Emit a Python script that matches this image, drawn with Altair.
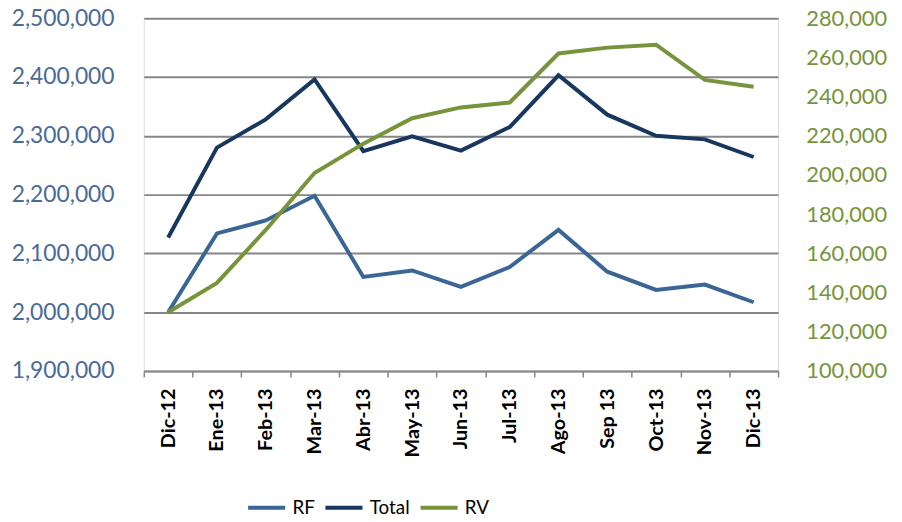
import altair as alt
import pandas as pd

months = ["Dic-12", "Ene-13", "Feb-13", "Mar-13", "Abr-13", "May-13", "Jun-13",
          "Jul-13", "Ago-13", "Sep 13", "Oct-13", "Nov-13", "Dic-13"]
rf = [2000000, 2134000, 2156000, 2198000, 2060000, 2071000, 2043000,
      2077000, 2140000, 2069000, 2038000, 2047000, 2017000]
total = [2127000, 2280000, 2328000, 2396000, 2274000, 2299000, 2275000,
         2315000, 2403000, 2336000, 2300000, 2294000, 2264000]
rv = [130000, 145000, 172000, 201000, 216000, 229000, 234500,
      237000, 262000, 265000, 266500, 248500, 245000]

series = ["RF", "Total", "RV"]
colors = ["#3A6595", "#17375E", "#77933C"]
left_ticks = [1900000, 2000000, 2100000, 2200000, 2300000, 2400000, 2500000]
right_ticks = [100000, 120000, 140000, 160000, 180000, 200000, 220000, 240000, 260000, 280000]

rows = []
for i, m in enumerate(months):
    rows.append({"month": m, "series": "RF", "value": rf[i]})
    rows.append({"month": m, "series": "Total", "value": total[i]})
    rows.append({"month": m, "series": "RV", "value": rv[i]})
df = pd.DataFrame(rows)

FONT = "Lato"

x_enc = alt.X("month:N", sort=months, title=None,
              scale=alt.Scale(type="band", paddingInner=0, paddingOuter=0),
              axis=alt.Axis(labelAngle=-90, labelFontWeight="bold", labelFontSize=20,
                            labelFont=FONT, labelColor="#000000", labelPadding=11,
                            tickBand="extent", tickColor="#868686", tickSize=6,
                            tickWidth=1.5, domainColor="#868686", domainWidth=1.5,
                            grid=False))

color_enc = alt.Color("series:N",
                      scale=alt.Scale(domain=series, range=colors),
                      legend=alt.Legend(title=None, orient="none", direction="horizontal",
                                        legendX=103, legendY=473,
                                        symbolType="stroke", symbolSize=1400,
                                        symbolStrokeWidth=4, labelFont=FONT,
                                        labelFontSize=19, labelColor="#000000",
                                        labelOffset=5, columnPadding=2))

left = alt.Chart(df).transform_filter(
    alt.FieldOneOfPredicate(field="series", oneOf=["RF", "Total"])
).mark_line(strokeWidth=4).encode(
    x=x_enc,
    y=alt.Y("value:Q", title=None,
            scale=alt.Scale(domain=[1900000, 2500000], nice=False, zero=False),
            axis=alt.Axis(values=left_ticks, format=",d", labelFont=FONT, labelFontSize=23,
                          labelColor="#4A6A98", labelPadding=30, domain=False, ticks=False,
                          grid=True, gridColor="#868686", gridWidth=2)),
    color=color_enc,
)

right = alt.Chart(df).transform_filter(
    alt.FieldEqualPredicate(field="series", equal="RV")
).mark_line(strokeWidth=4).encode(
    x=x_enc,
    y=alt.Y("value:Q", title=None,
            scale=alt.Scale(domain=[100000, 280000], nice=False, zero=False),
            axis=alt.Axis(orient="right", values=right_ticks, format=",d", labelFont=FONT,
                          labelFontSize=22, labelColor="#77933C", labelPadding=28,
                          domain=False, ticks=False, grid=False)),
    color=color_enc,
)

chart = alt.layer(left, right).resolve_scale(y="independent").properties(
    width=640, height=356,
    autosize=alt.AutoSizeParams(type="none"),
    padding={"left": 137, "top": 8, "right": 117, "bottom": 150},
).configure_view(stroke=None).configure(background="#ffffff")

chart.save("out.html", embed_options={"renderer": "svg", "actions": False})
